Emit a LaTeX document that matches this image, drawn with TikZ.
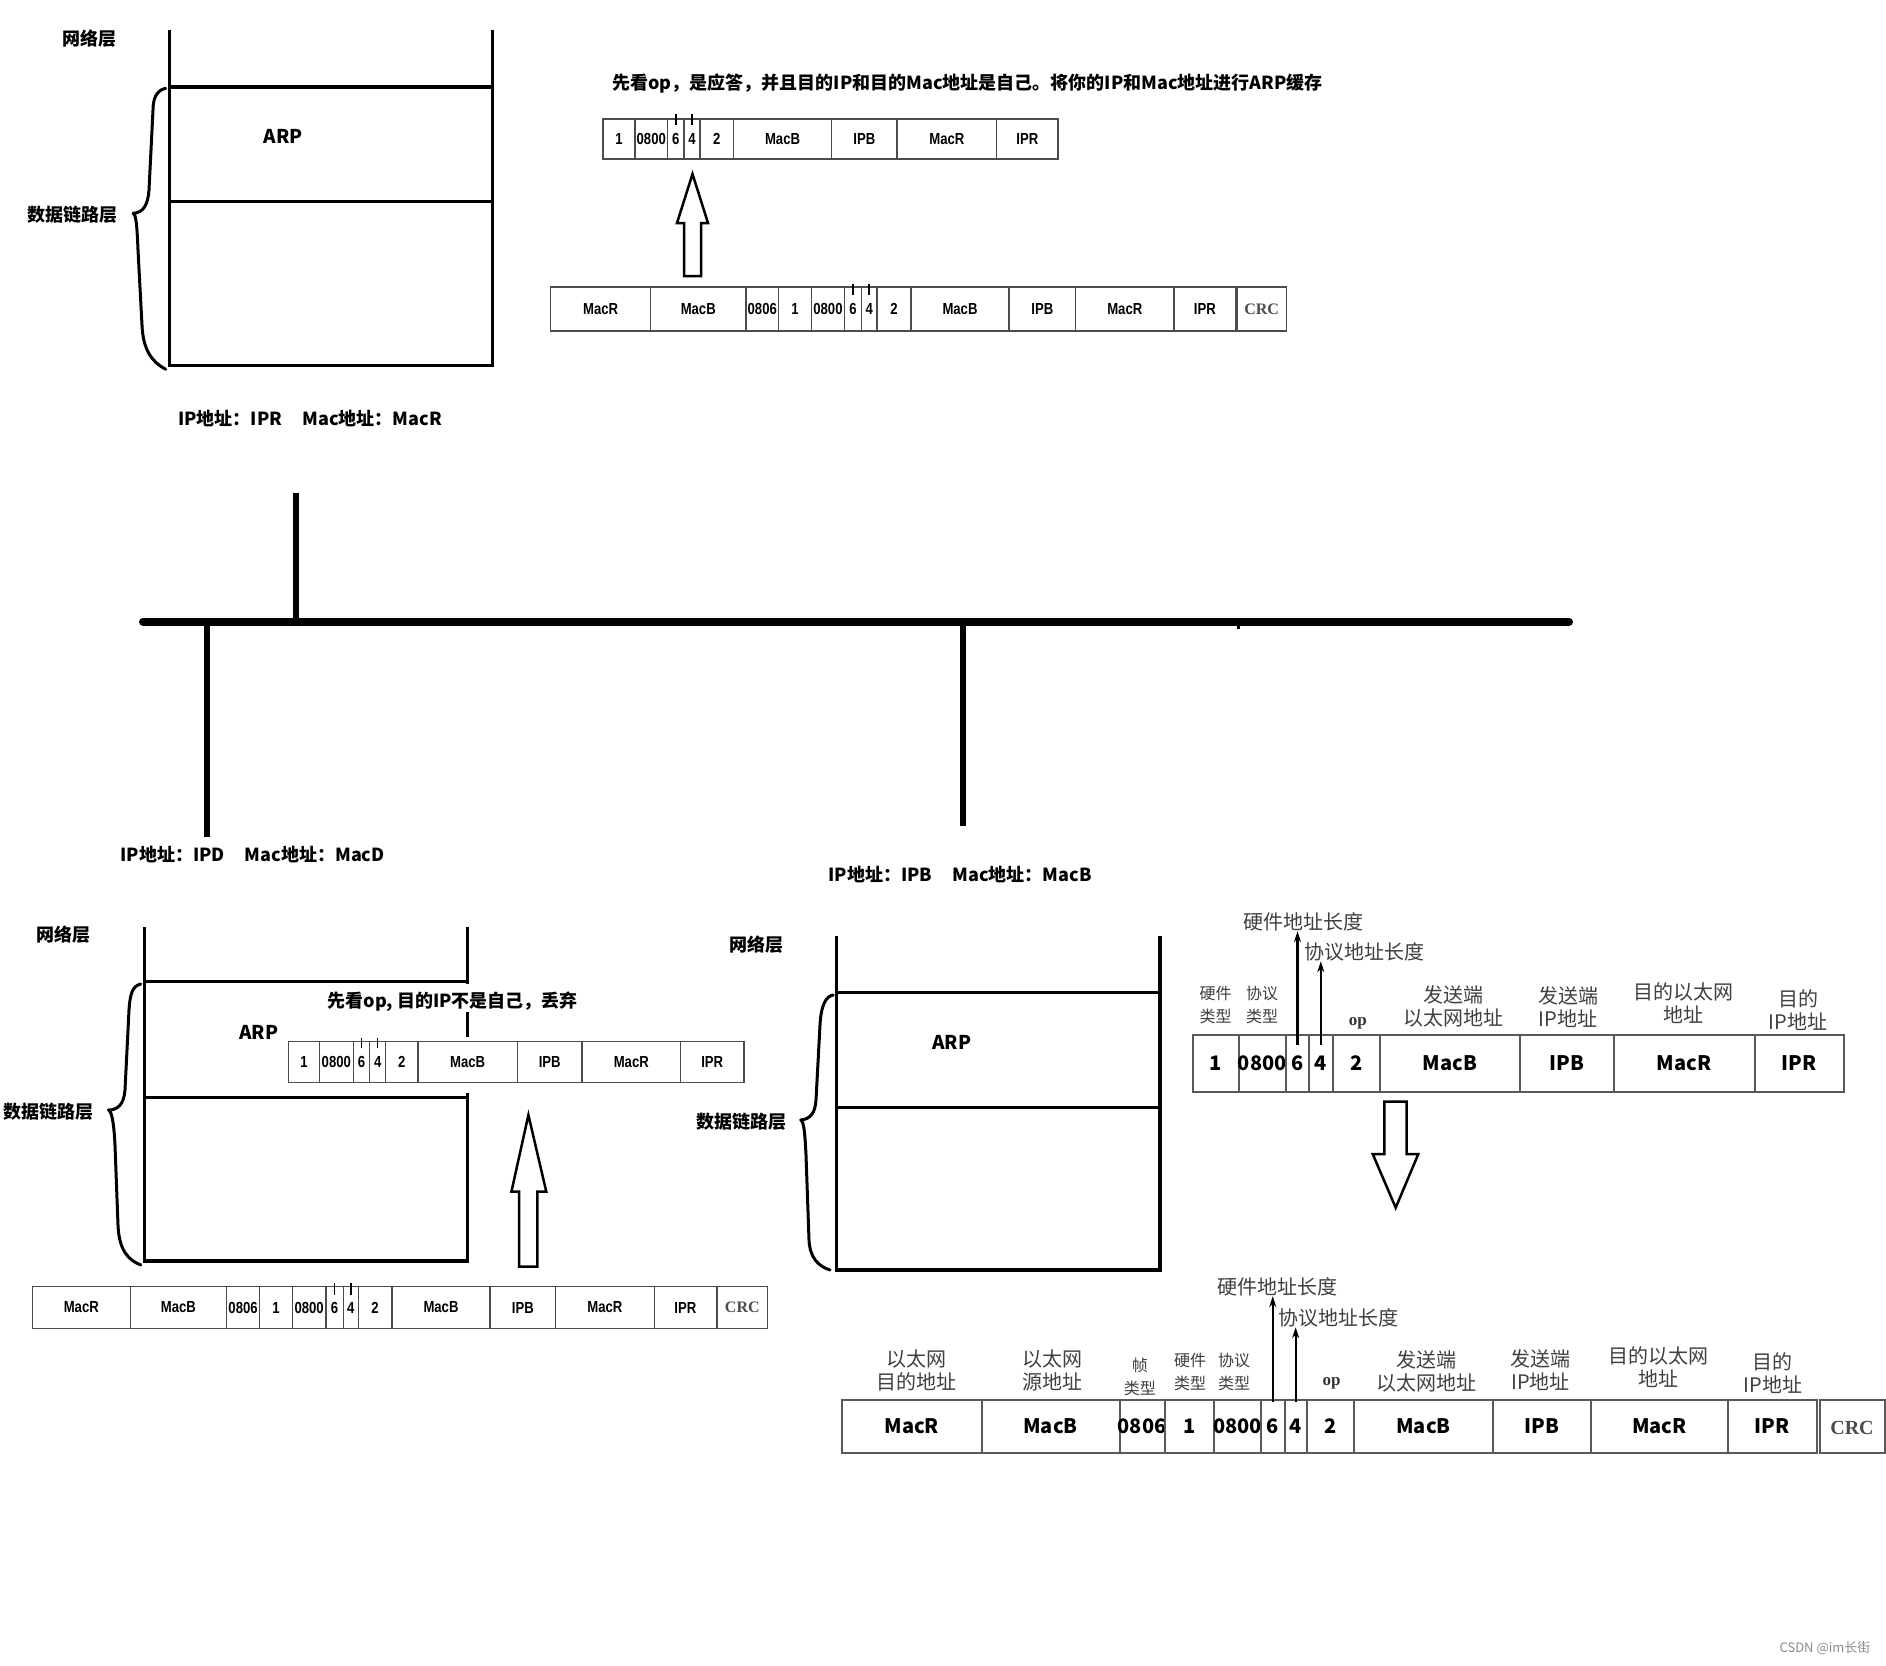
\documentclass[tikz,border=0pt]{standalone}
\usepackage{fontspec}
\setmainfont{Noto Sans CJK SC}
\newfontfamily\pktf{Liberation Sans}[FakeStretch=0.82]
\newfontfamily\crcf{Liberation Serif}
\usetikzlibrary{arrows.meta}
\newcommand\fs[1]{\fontsize{#1}{#1}\selectfont}
\newcommand\fsl[1]{\fontsize{#1}{23}\selectfont}
\tikzset{
 layer/.style={font=\fs{18}\bfseries, inner sep=0},
 arp/.style={font=\fs{19}\bfseries, inner sep=0},
 note/.style={font=\fs{18}\bfseries, inner sep=0},
 glabel/.style={font=\fsl{20}, text=black!75, inner sep=0, align=center},
 slabel/.style={font=\fsl{16}, text=black!75, inner sep=0, align=center},
 oplabel/.style={font=\crcf\bfseries\fs{17}, text=black!80, inner sep=0},
 scell/.style={draw=black!70, line width=1.4pt},
 bcell/.style={draw=black!65, line width=2pt},
 stxt/.style={font=\pktf\bfseries\fs{16}, inner sep=0},
 btxt/.style={font=\bfseries\fs{20}, inner sep=0},
 scrc/.style={font=\crcf\bfseries\fs{16}, text=black!70, inner sep=0},
 bcrc/.style={font=\crcf\bfseries\fs{20}, text=black!70, inner sep=0},
 stackline/.style={line width=3.3pt},
 brace/.style={line width=3pt, line join=round, line cap=round},
 hollow/.style={line width=2.5pt, line join=miter, fill=white},
 larr/.style={line width=2.3pt, -{Stealth[length=11pt,width=7pt]}},
 tickm/.style={line width=1.5pt},
 bus/.style={line width=8pt, line cap=round},
 drop/.style={line width=6pt},
}
\newcommand\pkt[5]{%
 \foreach \xa/\xb/\lab [count=\i] in {#5}{%
  \draw[#4cell] (\xa,#2) rectangle (\xb,#3);
  \node[#4txt] (#1-\i) at ({(\xa+\xb)/2},{(#2+#3)/2}) {\lab};
 }}
\begin{document}
\begin{tikzpicture}[x=1pt,y=-1pt]
\useasboundingbox[fill=white] (0,0) rectangle (1886,1665);

% ---------- top-left stack ----------
\draw[stackline] (169.3,30) -- (169.3,365.7) -- (492.3,365.7) -- (492.3,30);
\draw[stackline] (169.3,87) -- (492.3,87);
\draw[stackline] (169.3,201.3) -- (492.3,201.3);
\draw[brace] (165.7,88.3) .. controls (157,90) and (153,98) .. (153,110) -- (149,190) .. controls (148,205) and (143,213) .. (133,213.3) .. controls (136,214) and (137,225) .. (138,250) -- (142,325) .. controls (143,350) and (152,362) .. (165.7,369.3);
\node[layer] (nl1) at (89,39) {网络层};
\node[arp] (arp1) at (283.3,136) {ARP};
\node[layer] (dl1) at (72.7,215) {数据链路层};
\node[layer] (ad1) at (310,418.3) {IP地址：IPR\hspace{20pt}Mac地址：MacR};

% ---------- top packets ----------
\node[note] (n1) at (967.7,84) {先看op，是应答，并且目的IP和目的Mac地址是自己。将你的IP和Mac地址进行ARP缓存};
\pkt{p1}{119}{159}{s}{603/635/1,635/667.5/0800,667.5/684/6,684/700/4,700/733.5/2,733.5/831.6/MacB,831.6/897/IPB,897/996.7/MacR,996.7/1058/IPR}
\draw[tickm] (p1-3.center |- 0,114) -- (p1-3.center |- 0,125);
\draw[tickm] (p1-4.center |- 0,114) -- (p1-4.center |- 0,125);

\draw[hollow] (684,276) -- (684,223) -- (677,223) -- (692.5,174) -- (708,223) -- (701,223) -- (701,276) -- cycle;

\pkt{p2}{287}{331}{s}{550.7/650.5/MacR,650.5/746/MacB,746/778.5/0806,778.5/811.5/1,811.5/844.4/0800,844.4/861.4/6,861.4/877/4,877/911/2,911/1009/MacB,1009/1075.6/IPB,1075.6/1174/MacR,1174/1235.6/IPR}
\draw[scell] (1237,287) rectangle (1286.5,331);
\node[scrc] (p2crc) at (1261.7,309) {CRC};
\draw[tickm] (p2-6.center |- 0,284) -- (p2-6.center |- 0,295);
\draw[tickm] (p2-7.center |- 0,284) -- (p2-7.center |- 0,295);

% ---------- bus ----------
\coordinate (busL) at (143,621.7);
\coordinate (busR) at (1569,621.7);
\coordinate (s1) at (296.2,492.7);
\coordinate (dA) at (207.2,836.7);
\coordinate (dB) at (963,826);
\coordinate (nub) at (1238.7,629);
\draw[drop] (s1) -- (s1 |- busL);
\draw[drop] (dA |- busL) -- (dA);
\draw[drop] (dB |- busL) -- (dB);
\draw[line width=3pt] (nub |- busL) -- (nub);
\draw[bus] (busL) -- (busR);
\node[layer] (adD) at (252.6,854) {IP地址：IPD\hspace{20pt}Mac地址：MacD};
\node[layer] (adB) at (960,874.4) {IP地址：IPB\hspace{20pt}Mac地址：MacB};

% ---------- bottom-left stack ----------
\draw[stackline] (144.3,926.7) -- (144.3,1261) -- (467.7,1261) -- (467.7,926.7);
\draw[stackline] (144.3,981.7) -- (467.7,981.7);
\draw[stackline] (144.3,1097.3) -- (467.7,1097.3);
\fill[white] (460,984) rectangle (476,1012);
\fill[white] (286,1037) rectangle (746,1093);
\draw[brace] (140.8,984) .. controls (132,986) and (130,995) .. (129,1010) -- (125,1090) .. controls (124,1104) and (118,1110) .. (108.5,1110) .. controls (112,1111) and (114,1125) .. (115,1145) -- (118,1225) .. controls (119,1250) and (128,1260) .. (140.8,1265);
\node[layer] (nl2) at (63.7,935) {网络层};
\node[arp] (arp2) at (258.7,1032.7) {ARP};
\node[layer] (dl2) at (48,1111.7) {数据链路层};
\node[note] (n2) at (452.7,1001.7) {先看op, 目的IP不是自己，丢弃};
\pkt{p3}{1041.7}{1082.7}{s}{288.6/319.4/1,319.4/353.2/0800,353.2/369.7/6,369.7/385.6/4,385.6/418/2,418/517.4/MacB,517.4/582/IPB,582/680.6/MacR,680.6/743.8/IPR}
\draw[tickm] (p3-3.center |- 0,1038) -- (p3-3.center |- 0,1048);
\draw[tickm] (p3-4.center |- 0,1038) -- (p3-4.center |- 0,1048);

\draw[hollow] (519,1266.7) -- (519,1191.7) -- (511.4,1191.7) -- (528.4,1115) -- (546.3,1191.7) -- (537.3,1191.7) -- (537.3,1266.7) -- cycle;

\pkt{p4}{1286.7}{1328.3}{s}{32.3/130.3/MacR,130.3/226.4/MacB,226.4/259.7/0806,259.7/292.5/1,292.5/325.9/0800,325.9/343.3/6,343.3/358.2/4,358.2/392/2,392/490/MacB,490/555.7/IPB,555.7/654.2/MacR,654.2/716.4/IPR}
\draw[scell] (717.4,1286.7) rectangle (767.2,1328.3);
\node[scrc] (p4crc) at (742.3,1307.5) {CRC};
\draw[tickm] (p4-6.center |- 0,1283) -- (p4-6.center |- 0,1295);
\draw[tickm] (p4-7.center |- 0,1283) -- (p4-7.center |- 0,1295);

% ---------- middle stack ----------
\draw[stackline] (836.7,936) -- (836.7,1270) -- (1160,1270) -- (1160,936);
\draw[stackline] (836.7,992.3) -- (1160,992.3);
\draw[stackline] (836.7,1107.3) -- (1160,1107.3);
\draw[brace] (833.3,995) .. controls (826,996) and (821,1005) .. (820,1025) -- (816,1100) .. controls (815,1114) and (810,1119) .. (800.7,1120) .. controls (804,1121) and (805,1135) .. (806,1155) -- (809,1240) .. controls (810,1258) and (818,1266) .. (830,1270);
\node[layer] (nl3) at (756.7,945) {网络层};
\node[arp] (arp3) at (951.7,1042.7) {ARP};
\node[layer] (dl3) at (741,1121.7) {数据链路层};

% ---------- top-right ARP packet ----------
\node[glabel] (h1) at (1303.6,921.7) {硬件地址长度};
\node[glabel] (h2) at (1364,951.7) {协议地址长度};
\node[slabel] (c1) at (1215.6,1005) {硬件\\类型};
\node[slabel] (c2) at (1262,1005) {协议\\类型};
\node[oplabel] (c3) at (1357.8,1023) {op};
\node[glabel] (c4) at (1453,1006.7) {发送端\\以太网地址};
\node[glabel] (c5) at (1568,1006.7) {发送端\\IP地址};
\node[glabel] (c6) at (1683,1003) {目的以太网\\地址};
\node[glabel] (c7) at (1798,1010) {目的\\IP地址};
\pkt{p5}{1035}{1091.7}{b}{1193/1238.5/1,1238.5/1286/0800,1286/1309/6,1309/1332.6/4,1332.6/1380/2,1380/1520/MacB,1520/1613.6/IPB,1613.6/1754.6/MacR,1754.6/1843.5/IPR}
\draw[larr] ([yshift=-10pt]p5-3.center |- 0,1035) -- (p5-3.center |- h1.south);
\draw[larr] ([yshift=-10pt]p5-4.center |- 0,1035) -- (p5-4.center |- h2.south);

\draw[hollow] (1384.3,1101.7) -- (1384.3,1154) -- (1372.7,1154) -- (1395.7,1207.7) -- (1418.3,1154) -- (1406.7,1154) -- (1406.7,1101.7) -- cycle;

% ---------- bottom-right ethernet frame ----------
\node[glabel] (g1) at (1277.8,1286.7) {硬件地址长度};
\node[glabel] (g2) at (1338,1317.7) {协议地址长度};
\node[glabel] (d1) at (916,1370) {以太网\\目的地址};
\node[glabel] (d2) at (1052,1370) {以太网\\源地址};
\node[slabel] (d3) at (1139.8,1376.7) {帧\\类型};
\node[slabel] (d4) at (1190,1371.7) {硬件\\类型};
\node[slabel] (d5) at (1234,1371.7) {协议\\类型};
\node[oplabel] (d6) at (1331.7,1383) {op};
\node[glabel] (d7) at (1426,1371.7) {发送端\\以太网地址};
\node[glabel] (d8) at (1540.4,1370) {发送端\\IP地址};
\node[glabel] (d9) at (1658,1366.7) {目的以太网\\地址};
\node[glabel] (d10) at (1772.8,1373) {目的\\IP地址};
\pkt{p6}{1400}{1453}{b}{842/981.5/MacR,981.5/1119.6/MacB,1119.6/1164.7/0806,1164.7/1213.8/1,1213.8/1261/0800,1261/1284.5/6,1284.5/1306.8/4,1306.8/1354/2,1354/1493/MacB,1493/1591/IPB,1591/1727.6/MacR,1727.6/1816.5/IPR}
\draw[bcell] (1820,1400) rectangle (1885,1453);
\node[bcrc] (p6crc) at (1852,1428) {CRC};
\draw[larr] (p6-6.center |- 0,1402) -- (p6-6.center |- g1.south);
\draw[larr] (p6-7.center |- 0,1402) -- (p6-7.center |- g2.south);

\node[font=\fs{13}, text=black!45, inner sep=0] (wm) at (1825,1648) {CSDN @im长街};
\end{tikzpicture}
\end{document}
